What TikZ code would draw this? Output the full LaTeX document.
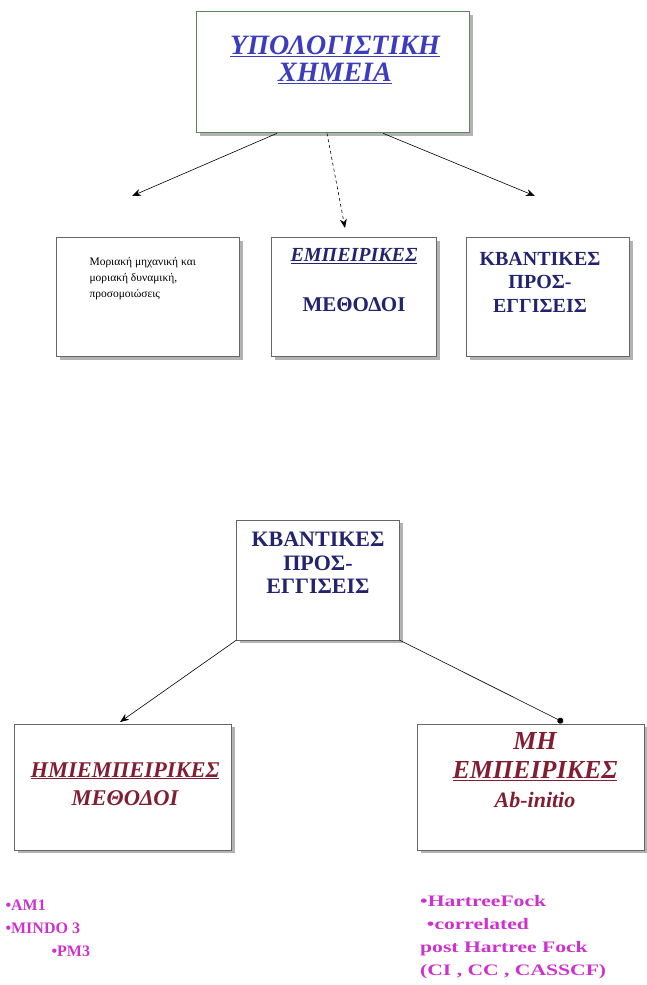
\documentclass[tikz,border=0pt]{standalone}
\usepackage{fontspec}
\usepackage{graphicx}
\setmainfont{Liberation Serif}
\usetikzlibrary{arrows.meta,shadows,calc}
\definecolor{titleblue}{RGB}{60,60,190}
\definecolor{darkblue}{RGB}{35,35,110}
\definecolor{darkred}{RGB}{130,30,50}
\definecolor{boxgreen}{RGB}{95,130,95}
\definecolor{bulletpink}{RGB}{205,50,205}
\tikzset{
  box/.style={draw=gray!80!black,fill=white,drop shadow={shadow xshift=3pt,shadow yshift=-3pt,opacity=0.6}},
  conn/.style={-{Stealth[length=9pt,width=7pt]},semithick},
}
\begin{document}
\begin{tikzpicture}[x=1pt,y=-1pt]
\useasboundingbox (0,0) rectangle (647,985);
% top box
\node[box,draw=boxgreen,line width=1.6pt,minimum width=273pt,minimum height=121pt] (chem) at (333,72) {};
\node[titleblue,font=\fontsize{28}{27}\selectfont\bfseries\itshape,align=center] (chemtxt) at (335,60)
  {\underline{ΥΠΟΛΟΓΙΣΤΙΚΗ}\\\underline{ΧΗΜΕΙΑ}};
% first row
\node[box,minimum width=183pt,minimum height=119pt] (mech) at (148,297) {};
\node[box,minimum width=165pt,minimum height=119pt] (emp) at (354,297) {};
\node[box,minimum width=163pt,minimum height=119pt] (quant) at (548,297) {};
\node[anchor=north west,align=left,font=\fontsize{11.5}{16}\selectfont] (mechtxt) at (86,254)
  {Μοριακή μηχανική και\\μοριακή δυναμική,\\προσομοιώσεις};
\node[darkblue,font=\fontsize{20}{20}\selectfont\bfseries\itshape] (emptxt) at (354,256) {\underline{ΕΜΠΕΙΡΙΚΕΣ}};
\node[darkblue,font=\fontsize{21}{20}\selectfont\bfseries] (methtxt) at (354,305) {ΜΕΘΟΔΟΙ};
\node[darkblue,font=\fontsize{20}{23.5}\selectfont\bfseries,align=center] (quanttxt) at (540,282)
  {ΚΒΑΝΤΙΚΕΣ\\ΠΡΟΣ-\\ΕΓΓΙΣΕΙΣ};
% arrows from top box
\coordinate (e1) at (132,196);
\coordinate (e2) at (345,228);
\coordinate (e3) at (535,196);
\draw[conn] ($(chem.south)+(-56,0)$) -- (e1);
\draw[conn,dashed] ($(chem.south)+(-6,0)$) -- (e2);
\draw[conn] ($(chem.south)+(50,0)$) -- (e3);
% lower part
\node[box,minimum width=163pt,minimum height=120pt] (quant2) at (318,580) {};
\node[darkblue,font=\fontsize{22}{23.5}\selectfont\bfseries,align=center] (quant2txt) at (318,563)
  {ΚΒΑΝΤΙΚΕΣ\\ΠΡΟΣ-\\ΕΓΓΙΣΕΙΣ};
\node[box,minimum width=217pt,minimum height=126pt] (semi) at (123,787) {};
\node[box,minimum width=227pt,minimum height=126pt] (abin) at (531,787) {};
\node[darkred,font=\fontsize{22.5}{28}\selectfont\bfseries\itshape,align=center] (semitxt) at (125,784)
  {\underline{ΗΜΙΕΜΠΕΙΡΙΚΕΣ}\\ΜΕΘΟΔΟΙ};
\node[darkred,font=\fontsize{26}{29}\selectfont\bfseries\itshape,align=center] (abintxt) at (535,770)
  {ΜΗ\\\underline{ΕΜΠΕΙΡΙΚΕΣ}\\{\fontsize{22}{29}\selectfont Ab-initio}};
\coordinate (s1) at (120,722);
\coordinate (s2) at (563,722);
\draw[conn] (quant2.south west) -- (s1);
\draw[-{Circle[length=6pt]},semithick] (quant2.south east) -- (s2);
% method lists
\node[bulletpink,anchor=west,align=left,font=\fontsize{16}{23}\selectfont\bfseries] (semilist) at (2,928)
  {•AM1\\•MINDO 3\\\hspace{46pt}•PM3};
\node[bulletpink,anchor=west,inner xsep=0pt,font=\fontsize{16}{23}\selectfont\bfseries] (abinlist) at (420,936)
  {\scalebox{1.35}[1]{\begin{tabular}{@{}l@{}}•HartreeFock\\\hspace{5pt}•correlated\\post Hartree Fock\\(CI , CC , CASSCF)\end{tabular}}};
\end{tikzpicture}
\end{document}
